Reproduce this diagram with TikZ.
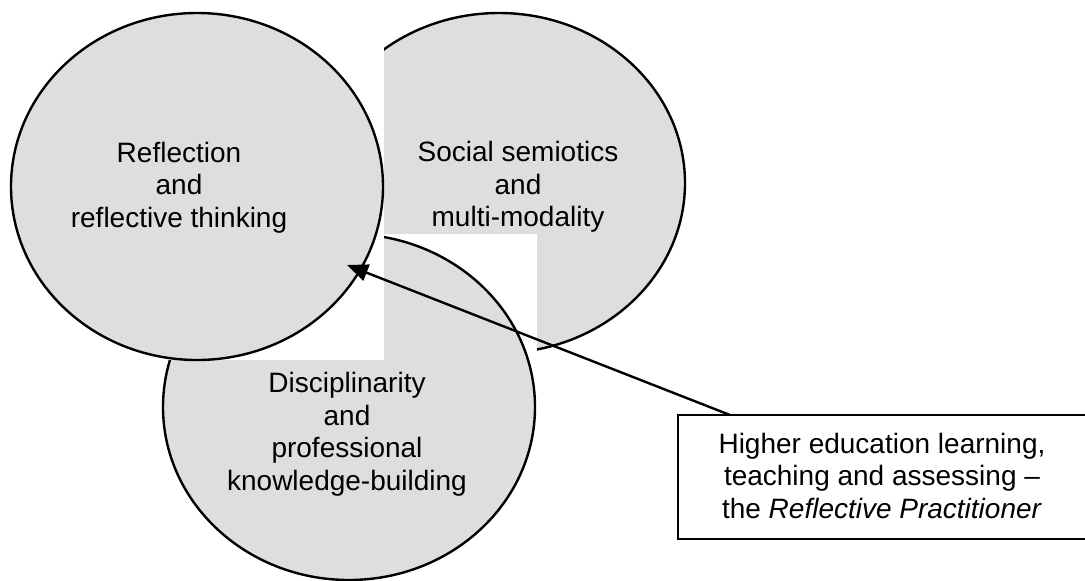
\documentclass[tikz,border=0pt]{standalone}
\usepackage{fontspec}
\setmainfont{Liberation Sans}
\usetikzlibrary{shapes.geometric,arrows.meta,calc}
\definecolor{bubblegray}{RGB}{222,222,222}
\begin{document}
\begin{tikzpicture}[x=1pt,y=-1pt,
  bubble/.style={ellipse, draw=black, fill=bubblegray, line width=2.4pt,
    inner sep=0pt, outer sep=0pt, minimum width=372pt, minimum height=#1},
  bubbletext/.style={align=center, inner sep=0pt,
    font=\fontsize{28}{32.5}\selectfont},
  frame/.style={fill=white},
  notebox/.style={fill=white, inner sep=0pt, outer sep=0pt,
    minimum width=430pt, minimum height=124pt},
  outline/.style={line width=2.4pt, line join=miter},
  pointer/.style={line width=2.4pt, -{Triangle[length=21pt,width=17pt]}}]
  \useasboundingbox (0,0) rectangle (1085,581);
  \fill[white] (0,0) rectangle (1085,581);
  \clip (0,0) rectangle (1085,581);

  % back bubble
  \node[bubble=340pt] (social) at (499,183) {};
  \node[bubbletext] (socialtext) at (518,187) {Social semiotics\\and\\multi-modality};

  % lower bubble on its white frame
  \fill[frame] (162,234) rectangle (537,582);
  \node[bubble=346pt] (disc) at (349,407) {};
  \node[bubbletext] (disctext) at (347,434.5)
    {Disciplinarity\\and\\professional\\knowledge-building};

  % front bubble on its white frame
  \fill[frame] (10,12) rectangle (384,360);
  \node[bubble=347pt] (refl) at (197,186.5) {};
  \node[bubbletext] (refltext) at (179,187.3) {Reflection\\and\\reflective thinking};

  % caption box, cut off by the right margin, and its pointer
  \node[notebox] (prac) at (893,477) {};
  \draw[outline] (prac.north east) -- (prac.north west)
    -- (prac.south west) -- (prac.south east);
  \node[bubbletext] (practext) at (882,475.5)
    {Higher education learning,\\teaching and assessing \textendash\\the \textit{Reflective Practitioner}};
  \coordinate (tip) at (347,265);
  \draw[pointer] ($(prac.north west)+(52,0)$) -- (tip);
\end{tikzpicture}
\end{document}
